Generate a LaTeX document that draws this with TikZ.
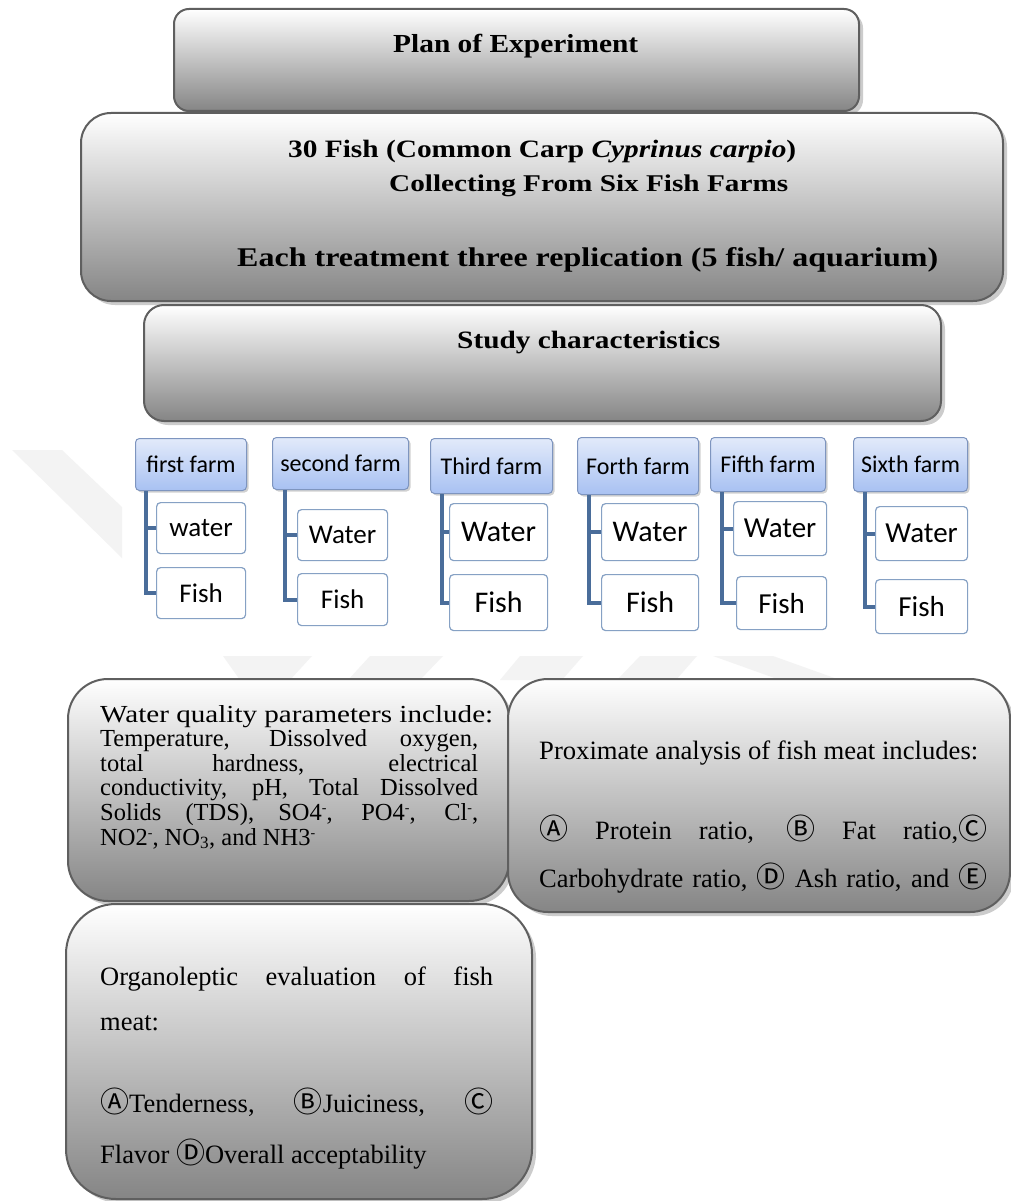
\documentclass[tikz,border=0pt]{standalone}
\usepackage{fontspec}
\usepackage{graphicx}
\usetikzlibrary{shadows}
\setmainfont{Liberation Serif}
\newfontfamily\calib{Carlito}
\newfontfamily\cjkf{Noto Sans CJK JP}
\newcommand\circl[1]{{\cjkf\fontsize{29}{29}\selectfont#1}}
\newcommand\supm{\raisebox{0.3em}{\fontsize{14}{14}\selectfont -}}
\definecolor{bord}{HTML}{5F5F5F}
\definecolor{gbot}{HTML}{858585}
\definecolor{htop}{HTML}{E2EAFA}
\definecolor{hbot}{HTML}{A8C1F2}
\definecolor{hbord}{HTML}{7E95BF}
\definecolor{cbord}{HTML}{86A1C4}
\definecolor{connc}{HTML}{4A6D9A}
\definecolor{wm}{HTML}{F3F3F3}
\tikzset{
  gbox/.style={draw=bord, line width=2pt, top color=white, bottom color=gbot,
    anchor=north west, inner sep=0pt,
    drop shadow={shadow xshift=4pt, shadow yshift=-4pt, fill=black!20, opacity=1}},
  ttl/.style={anchor=base west, inner sep=0pt, font=\bfseries},
  hbox/.style={draw=hbord, line width=1pt, rounded corners=4pt, top color=htop, bottom color=hbot,
    anchor=north west, inner sep=0pt, font=\calib\fontsize{24}{24}\selectfont,
    drop shadow={shadow xshift=2pt, shadow yshift=-2pt, fill=black!18, opacity=1}},
  cbox/.style={draw=cbord, line width=1.2pt, rounded corners=4pt, fill=white,
    anchor=north west, inner sep=0pt},
  conn/.style={draw=connc, line width=4pt},
  txt/.style={anchor=base west, inner sep=0pt, font=\fontsize{24.5}{25}\selectfont},
  txtb/.style={anchor=base west, inner sep=0pt, font=\fontsize{26.5}{27}\selectfont}
}
\begin{document}
\begin{tikzpicture}[x=1pt,y=-1pt]
\useasboundingbox (0,0) rectangle (1011,1201);
\fill[white] (0,0) rectangle (1011,1201);
% watermark
\fill[wm] (12,450) -- (62,450) -- (122,507) -- (122,558) -- cycle;
\fill[wm] (223,656) -- (312,656) -- (290,680) -- (240,680) -- cycle;
\fill[wm] (370,656) -- (443,656) -- (420,680) -- (348,680) -- cycle;
\fill[wm] (520,656) -- (583,656) -- (562,680) -- (500,680) -- cycle;
\fill[wm] (640,656) -- (697,656) -- (676,680) -- (617,680) -- cycle;
\fill[wm] (713,656) -- (773,656) -- (840,680) -- (780,680) -- cycle;

% top boxes
\node[gbox, rounded corners=15pt, minimum width=685pt, minimum height=102pt] (plan) at (173,8) {};
\node[gbox, rounded corners=30pt, minimum width=922pt, minimum height=188pt] (fish) at (80,112) {};
\node[gbox, rounded corners=20pt, minimum width=797pt, minimum height=116pt] (study) at (143,304) {};

\node[ttl, font=\bfseries\fontsize{26}{26}\selectfont] (tplan) at (393,53) {\resizebox{245pt}{\height}{Plan of Experiment}};
\node[ttl, font=\bfseries\fontsize{25}{25}\selectfont] (tfish) at (288,158) {\resizebox{508pt}{\height}{30 Fish (Common Carp \textit{Cyprinus carpio})}};
\node[ttl, font=\bfseries\fontsize{24}{24}\selectfont] (tcoll) at (389,192) {\resizebox{399pt}{\height}{Collecting From Six Fish Farms}};
\node[ttl, font=\bfseries\fontsize{27}{27}\selectfont] (teach) at (237,266) {\resizebox{701pt}{\height}{Each treatment three replication (5 fish/ aquarium)}};
\node[ttl, font=\bfseries\fontsize{25}{25}\selectfont] (tstudy) at (457,348) {\resizebox{263pt}{\height}{Study characteristics}};

% farms
\node[hbox, minimum width=111pt, minimum height=52pt] (h1) at (135,438) {first farm};
\node[hbox, minimum width=136pt, minimum height=52pt] (h2) at (272,437) {second farm};
\node[hbox, minimum width=122pt, minimum height=55pt] (h3) at (430,438) {Third farm};
\node[hbox, minimum width=121pt, minimum height=57pt] (h4) at (577,437) {Forth farm};
\node[hbox, minimum width=115pt, minimum height=54pt] (h5) at (710,437) {Fifth farm};
\node[hbox, minimum width=114pt, minimum height=54pt] (h6) at (853,437) {Sixth farm};

\node[cbox, minimum width=89pt, minimum height=51pt, font=\calib\fontsize{27}{27}\selectfont] (w1) at (156,502) {water};
\node[cbox, minimum width=89pt, minimum height=51pt, font=\calib\fontsize{27}{27}\selectfont] (f1) at (156,567) {Fish};
\node[cbox, minimum width=90pt, minimum height=51pt, font=\calib\fontsize{27}{27}\selectfont] (w2) at (297,509) {Water};
\node[cbox, minimum width=90pt, minimum height=52pt, font=\calib\fontsize{27}{27}\selectfont] (f2) at (297,573) {Fish};
\node[cbox, minimum width=98pt, minimum height=57pt, font=\calib\fontsize{30}{30}\selectfont] (w3) at (449,503) {Water};
\node[cbox, minimum width=98pt, minimum height=56pt, font=\calib\fontsize{30}{30}\selectfont] (f3) at (449,574) {Fish};
\node[cbox, minimum width=97pt, minimum height=57pt, font=\calib\fontsize{30}{30}\selectfont] (w4) at (601,503) {Water};
\node[cbox, minimum width=97pt, minimum height=56pt, font=\calib\fontsize{30}{30}\selectfont] (f4) at (601,574) {Fish};
\node[cbox, minimum width=93pt, minimum height=54pt, font=\calib\fontsize{29}{29}\selectfont] (w5) at (733,501) {Water};
\node[cbox, minimum width=90pt, minimum height=53pt, font=\calib\fontsize{29}{29}\selectfont] (f5) at (736,576) {Fish};
\node[cbox, minimum width=92pt, minimum height=54pt, font=\calib\fontsize{29}{29}\selectfont] (w6) at (875,506) {Water};
\node[cbox, minimum width=92pt, minimum height=54pt, font=\calib\fontsize{29}{29}\selectfont] (f6) at (875,579) {Fish};

\foreach \i/\s in {1/11,2/13,3/12,4/12,5/12,6/12}{
  \coordinate (t\i) at ([xshift=\s pt]h\i.south west);
  \draw[conn] (t\i) |- (f\i.west);
  \draw[conn] (t\i |- w\i.west) -- (w\i.west);
}

% bottom boxes
\node[gbox, rounded corners=40pt, minimum width=441pt, minimum height=222pt] (wq) at (67,678) {};
\node[gbox, rounded corners=40pt, minimum width=502pt, minimum height=233pt] (prox) at (507,678) {};
\node[gbox, rounded corners=50pt, minimum width=466pt, minimum height=295pt] (org) at (65,903) {};

\node[txt] (wl1) at (100,722) {\resizebox{393pt}{\height}{Water quality parameters include:}};
\node[txt] (wl2) at (100,746) {\makebox[378pt][s]{Temperature, Dissolved oxygen,}};
\node[txt] (wl3) at (100,771) {\makebox[378pt][s]{total hardness, electrical}};
\node[txt] (wl4) at (100,795) {\makebox[378pt][s]{conductivity, pH, Total Dissolved}};
\node[txt] (wl5) at (100,820) {\makebox[378pt][s]{Solids (TDS), SO4\supm, PO4\supm, Cl\supm,}};
\node[txt] (wl6) at (100,845) {NO2\supm, NO\textsubscript{3}, and NH3\supm};

\node[txtb] (pl1) at (539,759) {\resizebox{439pt}{\height}{Proximate analysis of fish meat includes:}};
\node[txtb] (pl2) at (539,839) {\makebox[448pt][s]{\circl{Ⓐ} Protein ratio, \circl{Ⓑ} Fat ratio,\circl{Ⓒ}}};
\node[txtb] (pl3) at (539,887) {\makebox[448pt][s]{Carbohydrate ratio, \circl{Ⓓ} Ash ratio, and \circl{Ⓔ}}};

\node[txtb] (ol1) at (100,985) {\makebox[393pt][s]{Organoleptic evaluation of fish}};
\node[txtb] (ol2) at (100,1030) {meat:};
\node[txtb] (ol3) at (100,1112) {\makebox[393pt][s]{\circl{Ⓐ}Tenderness, \circl{Ⓑ}Juiciness, \circl{Ⓒ}}};
\node[txtb] (ol4) at (100,1163) {Flavor \circl{Ⓓ}Overall acceptability};
\end{tikzpicture}
\end{document}
